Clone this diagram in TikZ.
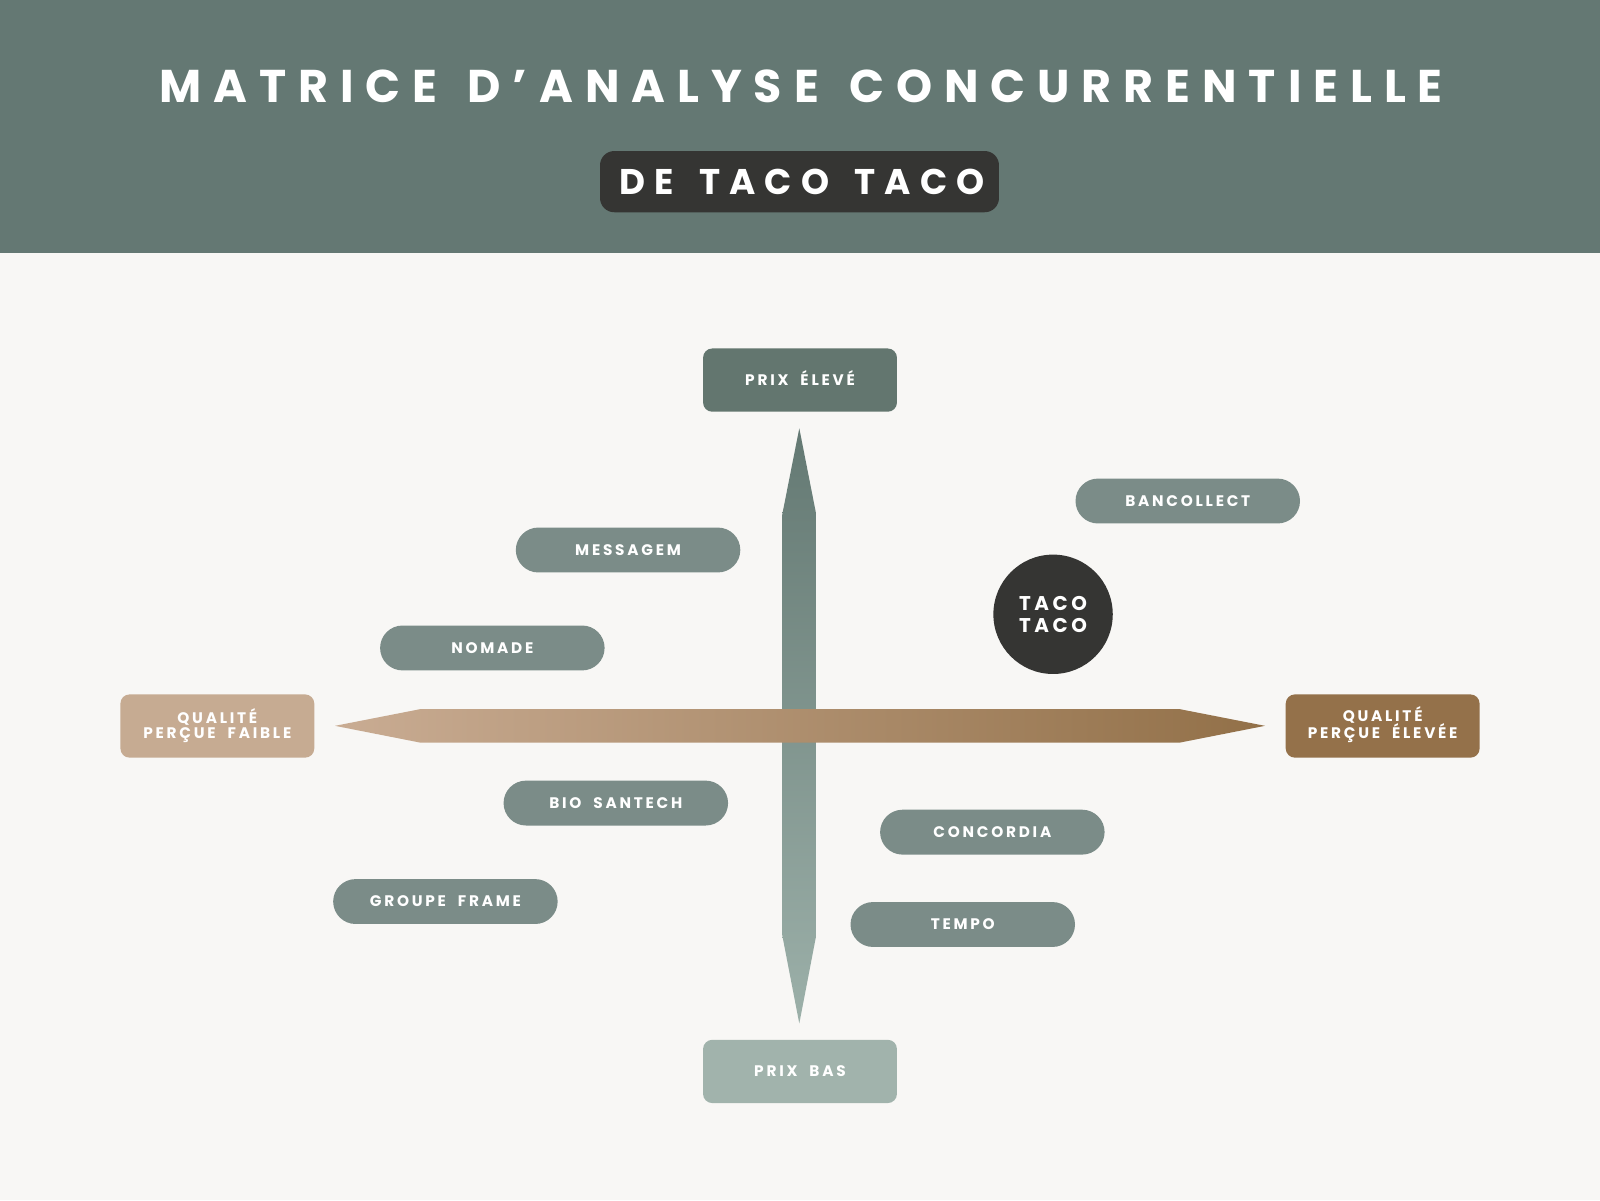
\documentclass[tikz,border=0pt]{standalone}
\usepackage{fontspec}
\setmainfont{Poppins}
\newfontfamily\titlefont[LetterSpace=26,WordSpace=1.4]{Poppins}
\newfontfamily\subfont[LetterSpace=25,WordSpace=1.55]{Poppins}
\newfontfamily\labfont[LetterSpace=18,WordSpace=2]{Poppins}
\definecolor{bgc}{HTML}{F8F7F5}
\definecolor{headc}{HTML}{647873}
\definecolor{darkc}{HTML}{353533}
\definecolor{pillc}{HTML}{7B8C88}
\definecolor{highc}{HTML}{63766F}
\definecolor{lowc}{HTML}{A1B3AC}
\definecolor{qlowc}{HTML}{C6AB92}
\definecolor{qhighc}{HTML}{94714A}
\definecolor{vtopc}{HTML}{647973}
\definecolor{vbotc}{HTML}{9CB0A9}
\definecolor{hleftc}{HTML}{C9AC93}
\definecolor{hrightc}{HTML}{927048}
\tikzset{
  pill/.style={fill=pillc, rounded corners=22pt, minimum width=220pt, minimum height=44pt,
    inner sep=0pt, text=white, font=\labfont\bfseries\fontsize{15}{15}\selectfont,
    text height=10.6pt, text depth=0pt},
  axisbox/.style={rounded corners=9pt, minimum width=190pt, minimum height=62pt,
    inner sep=0pt, text=white, font=\labfont\bfseries\fontsize{15}{14.7}\selectfont,
    align=center},
}
\begin{document}
\begin{tikzpicture}[x=1pt,y=-1pt]
\useasboundingbox (0,0) rectangle (1568,1176);
\fill[bgc] (0,0) rectangle (1568,1176);
\fill[headc] (0,0) rectangle (1568,248);
\node[anchor=base, text=white, inner sep=0pt, font=\titlefont\bfseries\fontsize{45}{50}\selectfont] (title) at (785,100) {MATRICE D’ANALYSE CONCURRENTIELLE};
\node[fill=darkc, rounded corners=14pt, minimum width=391pt, minimum height=60pt, inner sep=0pt,
  text=white, font=\subfont\bfseries\fontsize{35}{35}\selectfont, text height=24.6pt, text depth=0pt] (sub) at (783.5,178) {\hspace*{5pt}DE TACO TACO};
% vertical axis
\shade[top color=vtopc, bottom color=vbotc] (783.3,419.7) -- (800,504.7) -- (800,916) -- (783.3,1003) -- (766.5,916) -- (766.5,504.7) -- cycle;
% horizontal axis
\shade[left color=hleftc, right color=hrightc] (328.3,711.3) -- (411.6,695) -- (1156.4,695) -- (1239.7,711.3) -- (1156.4,727.7) -- (411.6,727.7) -- cycle;
% axis labels
\node[axisbox, fill=highc, text height=10.6pt, text depth=0pt] (high) at (784,372.5) {PRIX ÉLEVÉ};
\node[axisbox, fill=lowc, text height=10.6pt, text depth=0pt] (low) at (784,1050) {PRIX BAS};
\node[axisbox, fill=qlowc, text height=25.3pt, text depth=0pt] (qlow) at (213,711.5) {QUALITÉ\\PERÇUE FAIBLE};
\node[axisbox, fill=qhighc, text height=25.3pt, text depth=0pt] (qhigh) at (1355,711.5) {QUALITÉ\\PERÇUE ÉLEVÉE};
% competitors
\node[pill] (messagem) at (615.5,539) {MESSAGEM};
\node[pill] (nomade) at (482.5,635) {NOMADE};
\node[pill] (bio) at (603.5,787) {BIO SANTECH};
\node[pill] (groupe) at (436.5,883.5) {GROUPE FRAME};
\node[pill] (concordia) at (972.5,815.5) {CONCORDIA};
\node[pill] (tempo) at (943.5,906) {TEMPO};
\node[pill] (bancollect) at (1164,491) {BANCOLLECT};
% Taco Taco
\node[circle, fill=darkc, minimum size=117pt, inner sep=0pt, text=white, align=center,
  font=\labfont\bfseries\fontsize{19.5}{21.9}\selectfont, text height=35.6pt, text depth=0pt] (taco) at (1032,602) {TACO\\TACO};
\end{tikzpicture}
\end{document}
